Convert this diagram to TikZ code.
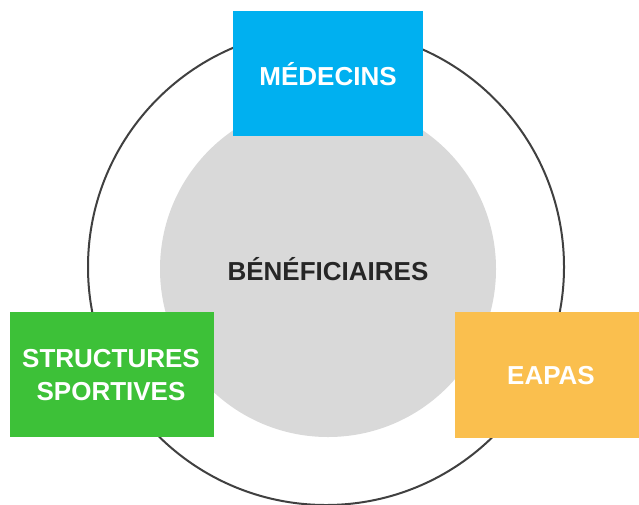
\documentclass[tikz,border=0pt]{standalone}
\usepackage{fontspec}
\setmainfont{Liberation Sans}
\definecolor{medblue}{HTML}{00B0F0}
\definecolor{sportgreen}{HTML}{3DC138}
\definecolor{eapasorange}{HTML}{FABF4E}
\definecolor{innergray}{HTML}{D9D9D9}
\definecolor{ringgray}{HTML}{404040}
\definecolor{textdark}{HTML}{262626}
\begin{document}
\begin{tikzpicture}[x=1pt,y=-1pt,
  box/.style={draw=none,inner sep=0pt,anchor=north west,text=white,
    font=\fontsize{26}{33}\selectfont\bfseries,align=center},
  ring/.style={draw=ringgray,line width=2pt},
  core/.style={fill=innergray}]
\useasboundingbox (0,0) rectangle (639,504);
\fill[white] (0,0) rectangle (639,504);
\node[ring,circle,minimum size=476pt,inner sep=0pt] (ring) at (326,267) {};
\node[core,circle,minimum size=336pt,inner sep=0pt] (core) at (328,269) {};
\node[text=textdark,font=\fontsize{26}{33}\selectfont\bfseries] (benef) at (328,269) {BÉNÉFICIAIRES};
\node[box,fill=medblue,minimum width=190pt,minimum height=125pt] (med) at (233,11) {};
\node[text=white,font=\fontsize{26}{33}\selectfont\bfseries] (medt) at (328,74) {MÉDECINS};
\node[box,fill=sportgreen,minimum width=204pt,minimum height=125pt] (sport) at (10,312) {};
\node[text=white,font=\fontsize{26}{33}\selectfont\bfseries,align=center] (sportt) at (111,375) {STRUCTURES\\SPORTIVES};
\node[box,fill=eapasorange,minimum width=184pt,minimum height=126pt] (eapas) at (455,312) {};
\node[text=white,font=\fontsize{26}{33}\selectfont\bfseries] (eapast) at (551,376) {EAPAS};
\end{tikzpicture}
\end{document}
